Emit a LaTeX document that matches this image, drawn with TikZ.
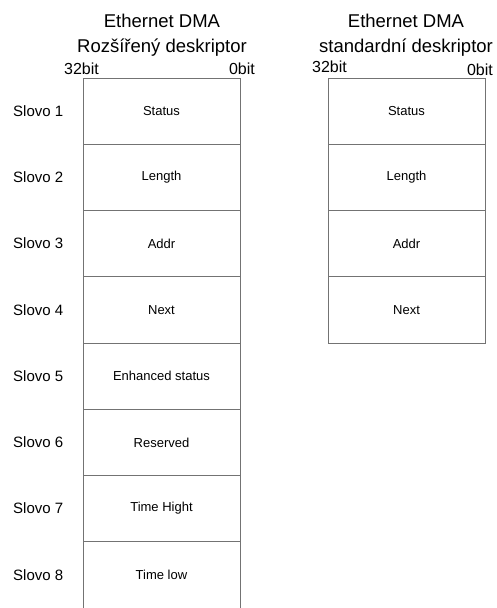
\documentclass[tikz,border=0pt]{standalone}
\usepackage{fontspec}
\setmainfont{Liberation Sans}
\begin{document}
\begin{tikzpicture}[x=1pt,y=-1pt,
  cell/.style={draw=black!55, line width=0.8pt, minimum width=157pt, minimum height=66.25pt, inner sep=0pt, outer sep=0pt, font=\fontsize{13}{15}\selectfont},
  rowlabel/.style={font=\fontsize{15}{18}\selectfont, inner sep=0pt},
  bitlabel/.style={font=\fontsize{16}{19}\selectfont, inner sep=0pt},
  title/.style={font=\fontsize{18.5}{24.5}\selectfont, align=center, inner sep=0pt}]
\useasboundingbox (0,0) rectangle (496,608);
% titles
\node[title, anchor=base] (t1a) at (162,27) {Ethernet DMA};
\node[title, anchor=base] (t1b) at (162,52) {Rozšířený deskriptor};
\node[title, anchor=base] (t2a) at (406,27) {Ethernet DMA};
\node[title, anchor=base] (t2b) at (406,52) {standardní deskriptor};
% bit labels
\node[bitlabel, anchor=base west] (b32l) at (64,74) {32bit};
\node[bitlabel, anchor=base east] (b0l) at (255,74) {0bit};
\node[bitlabel, anchor=base west] (b32r) at (312,72) {32bit};
\node[bitlabel, anchor=base east] (b0r) at (493,75) {0bit};
% left column
\begin{scope}
\clip (0,0) rectangle (496,608);
\foreach \i/\t in {1/Status,2/Length,3/Addr,4/Next,5/Enhanced status,6/Reserved,7/Time Hight,8/Time low}{
  \node[cell] (L\i) at (161.5,{78+66.25*(\i-0.5)}) {\t};
  \node[rowlabel, anchor=west] (S\i) at (13,{78+66.25*(\i-0.5)}) {Slovo \i};
}
\end{scope}
% right column
\foreach \i/\t in {1/Status,2/Length,3/Addr,4/Next}{
  \node[cell] (R\i) at (406.5,{78+66.25*(\i-0.5)}) {\t};
}
\end{tikzpicture}
\end{document}
